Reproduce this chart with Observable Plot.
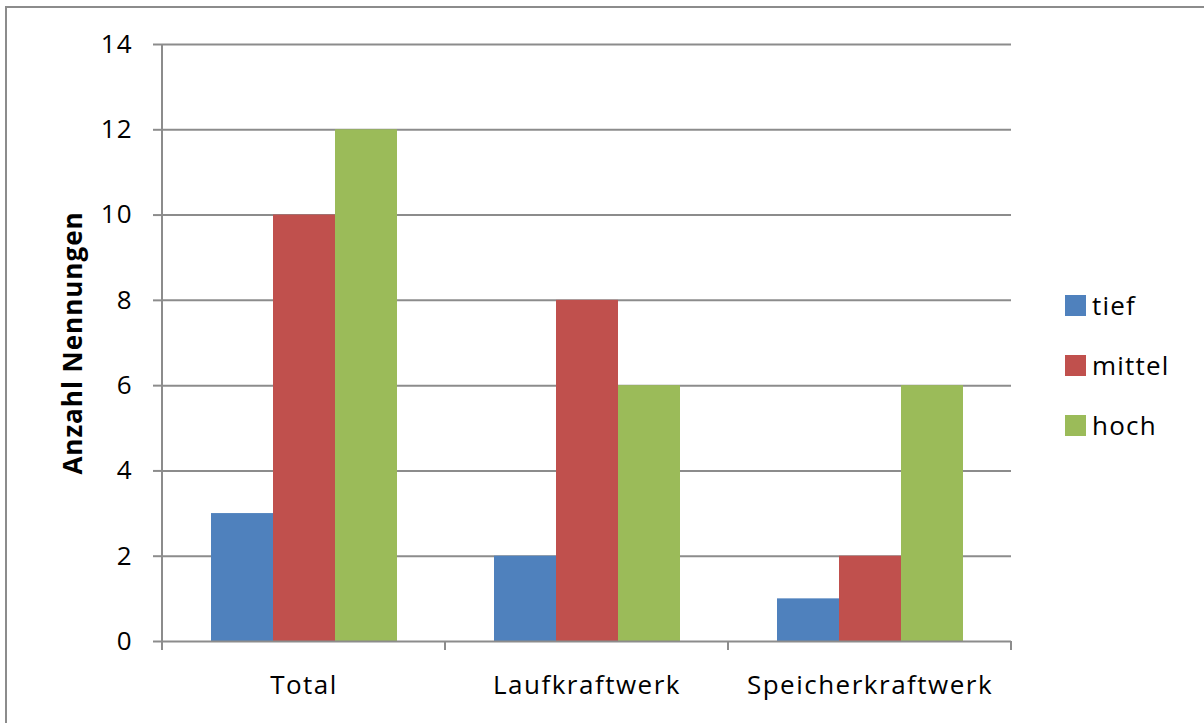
<!DOCTYPE html>
<html><head><meta charset="utf-8">
<script src="https://cdn.jsdelivr.net/npm/d3@7"></script>
<script src="https://cdn.jsdelivr.net/npm/@observablehq/plot@0.6"></script>
<style>
body{margin:0;background:#fff;}
#wrap{position:relative;width:1204px;height:723px;overflow:hidden;font-family:"Open Sans",sans-serif;background:#fff;}
.bl{position:absolute;background:#8c8c8c;pointer-events:none;}
#chart{position:absolute;left:0;top:0;}
.li{position:absolute;left:1065px;height:30px;display:flex;align-items:center;font-size:26px;color:#000;letter-spacing:1.2px;}
.sw{width:21px;height:21px;margin-right:6px;}
</style>
</head><body>
<div id="wrap"><div id="chart"></div>
<div class="bl" style="left:5px;top:6px;width:1199px;height:2px;"></div>
<div class="bl" style="left:5px;top:6px;width:2px;height:717px;"></div>
</div>
<script>
const categories = ["Total", "Laufkraftwerk", "Speicherkraftwerk"];
const series = ["tief", "mittel", "hoch"];
const tief = [3, 2, 1];
const mittel = [10, 8, 2];
const hoch = [12, 6, 6];
const yTicks = [0, 2, 4, 6, 8, 10, 12, 14];
const colors = ["#4F81BD", "#C0504D", "#9BBB59"];
const yTitle = "Anzahl Nennungen";

const seriesValues = {tief, mittel, hoch};
const rows = [];
categories.forEach((c, i) => series.forEach(s => rows.push({category: c, series: s, value: seriesValues[s][i]})));

const grid = "#8c8c8c";
const chart = Plot.plot({
  width: 1204, height: 723,
  marginLeft: 161, marginRight: 192, marginTop: 44, marginBottom: 82,
  style: {fontFamily: "'Open Sans', sans-serif", fontSize: "26px", color: "#000", background: "transparent"},
  fx: {domain: categories, padding: 0, label: null, axis: null},
  x: {domain: series, paddingInner: 0, paddingOuter: 0.75, axis: null},
  y: {domain: [0, 14]},
  color: {domain: series, range: colors},
  marks: [
    Plot.ruleY(yTicks.filter(d => d > 0), {stroke: grid, strokeWidth: 2}),
    Plot.barY(rows, {fx: "category", x: "series", y: "value", fill: "series"}),
    Plot.ruleY([0], {stroke: grid, strokeWidth: 2}),
    Plot.axisY({ticks: yTicks, tickSize: 9, tickPadding: 21, stroke: grid, strokeWidth: 2, strokeOpacity: 1,
      label: yTitle, labelAnchor: "center", labelOffset: 99, labelArrow: "none", fontSize: 26}),
    Plot.axisFx({anchor: "bottom", tickSize: 0, tickPadding: 34, fontSize: 26, label: null})
  ]
});

// axis line and category boundary ticks from the library's scales
const fx = chart.scale("fx"), y = chart.scale("y");
const x0 = fx.apply(categories[0]);
const bounds = categories.map(c => fx.apply(c)).concat([fx.apply(categories[categories.length - 1]) + fx.bandwidth]);
const g = d3.select(chart).append("g").attr("stroke", grid).attr("stroke-width", 2);
g.append("line").attr("x1", x0).attr("x2", x0).attr("y1", y.apply(14)).attr("y2", y.apply(0));
bounds.forEach(b => g.append("line").attr("x1", b).attr("x2", b).attr("y1", y.apply(0)).attr("y2", y.apply(0) + 9));
d3.select(chart).selectAll("text").attr("fill", "#000");
d3.select(chart).selectAll("[aria-label='fx-axis tick label'] text").attr("letter-spacing", "1.5px");
d3.select(chart).selectAll("[aria-label='y-axis tick label'] text").attr("letter-spacing", "1px");
d3.select(chart).selectAll("[aria-label='y-axis label'] text").attr("font-weight", "bold").attr("font-size", 26).attr("letter-spacing", "1px");
document.getElementById("chart").appendChild(chart);

// legend
const wrap = document.getElementById("wrap");
series.forEach((s, i) => {
  const d = document.createElement("div");
  d.className = "li";
  d.style.top = (290 + i * 60) + "px";
  d.innerHTML = `<span class="sw" style="background:${colors[i]}"></span><span>${s}</span>`;
  wrap.appendChild(d);
});
</script>
</body></html>
